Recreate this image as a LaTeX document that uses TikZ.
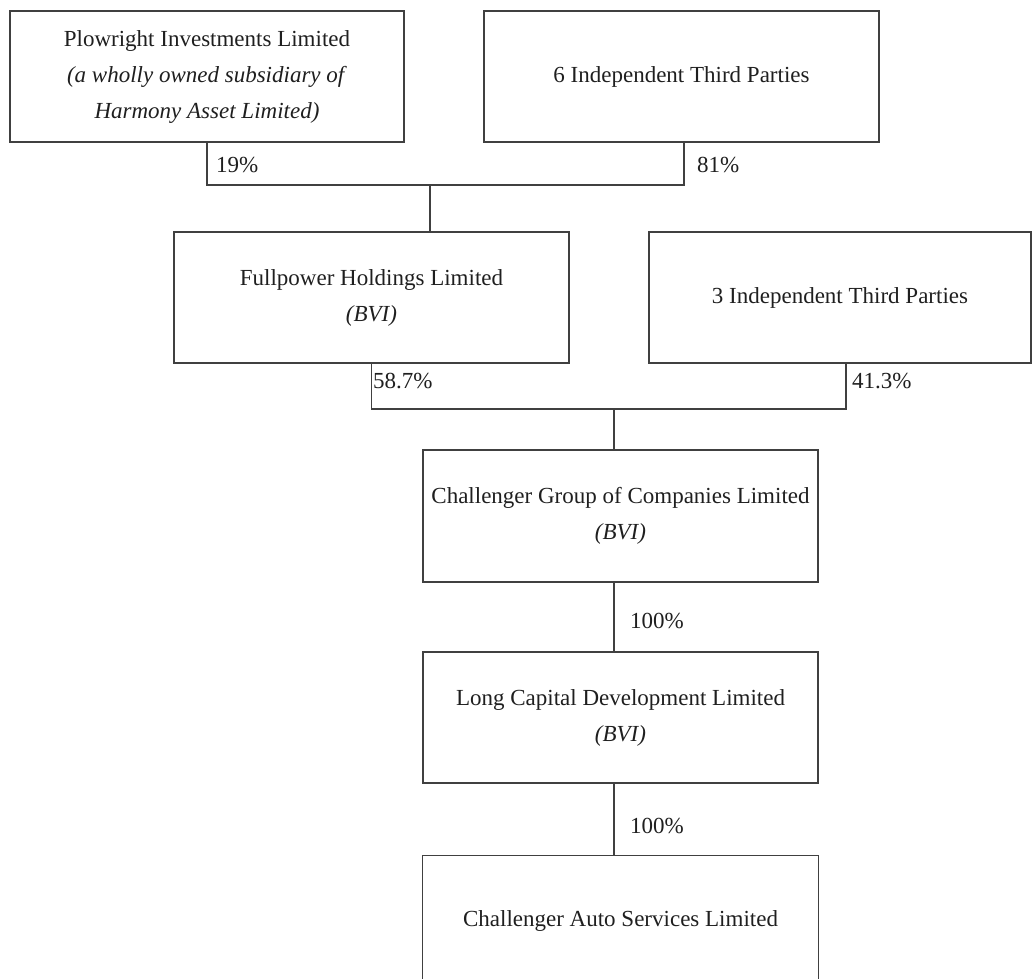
\documentclass[tikz,border=0pt]{standalone}
\usepackage{fontspec}
\setmainfont{Liberation Serif}
\begin{document}
\begin{tikzpicture}[x=1pt,y=-1pt,
  box/.style={draw=black!75, line width=1.1pt, minimum width=395pt, minimum height=131pt, inner sep=0pt, align=center, text=black!88, font=\fontsize{23}{36}\selectfont},
  openbox/.style={minimum width=395pt, minimum height=131pt, inner sep=0pt, align=center, text=black!88, font=\fontsize{23}{36}\selectfont},
  link/.style={draw=black!75, line width=1.1pt},
  pct/.style={anchor=base west, inner sep=0pt, text=black!88, font=\fontsize{23}{28}\selectfont}]
\useasboundingbox (0,0) rectangle (1032,978);
\node[box, minimum width=394pt] (b1) at (207,76.5) {Plowright Investments Limited\\\textit{(a wholly owned subsidiary of}\\\textit{Harmony Asset Limited)}};
\node[box] (b2) at (681.5,76.5) {6 Independent Third Parties};
\node[box] (b3) at (371.5,297.5) {Fullpower Holdings Limited\\\textit{(BVI)}};
\node[box, minimum width=382pt] (b4) at (840,297.5) {3 Independent Third Parties};
\node[box, minimum height=132pt] (b5) at (620.5,516) {Challenger Group of Companies Limited\\\textit{(BVI)}};
\node[box] (b6) at (620.5,717.5) {Long Capital Development Limited\\\textit{(BVI)}};
\node[openbox] (b7) at (620.5,921) {Challenger Auto Services Limited};
\draw[link] (b7.south west) -- (b7.north west) -- (b7.north east) -- (b7.south east);
\coordinate (j1) at (430,185);
\coordinate (j2) at (614,409);
\coordinate (r2) at (684,142);
\coordinate (r4) at (846,363);
\draw[link] (b1.south) -- (b1.south |- j1) -- (r2 |- j1) -- (r2);
\draw[link] (j1) -- (j1 |- b3.north);
\draw[link] (b3.south) -- (b3.south |- j2) -- (r4 |- j2) -- (r4);
\draw[link] (j2) -- (j2 |- b5.north);
\draw[link] (j2 |- b5.south) -- (j2 |- b6.north);
\draw[link] (j2 |- b6.south) -- (j2 |- b7.north);
\node[pct] (p1) at (216,172) {19\%};
\node[pct] (p2) at (697,172) {81\%};
\node[pct] (p3) at (373,388) {58.7\%};
\node[pct] (p4) at (852,388) {41.3\%};
\node[pct] (p5) at (630,628) {100\%};
\node[pct] (p6) at (630,833) {100\%};
\end{tikzpicture}
\end{document}
